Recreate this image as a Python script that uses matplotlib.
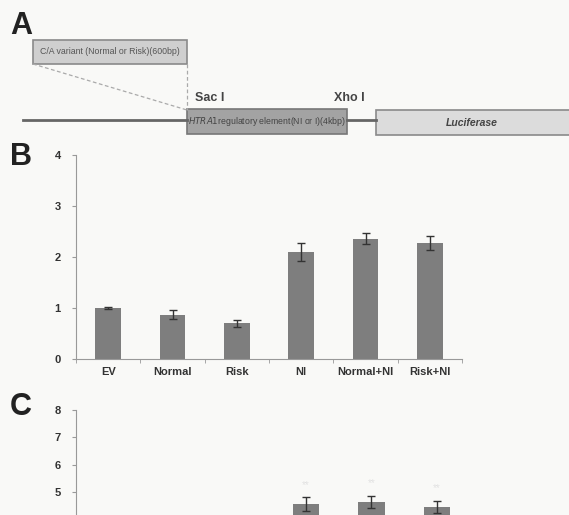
import matplotlib.pyplot as plt
from matplotlib.patches import Rectangle
from matplotlib.ticker import FixedLocator

# panel B: relative luciferase activity
groups = ['EV', 'Normal', 'Risk', 'NI', 'Normal+NI', 'Risk+NI']
b_vals = [1.0, 0.87, 0.70, 2.10, 2.36, 2.27]
b_err = [0.01, 0.09, 0.07, 0.17, 0.11, 0.14]

# panel C (only the top of it is in the picture)
c_vals = [1.0, 0.9, 0.8, 4.56, 4.65, 4.45]
c_err = [0.02, 0.1, 0.08, 0.25, 0.22, 0.22]

bg = '#f9f9f7'
bar_col = '#7e7e7e'
plt.rcParams['font.family'] = ['Liberation Sans', 'DejaVu Sans']

fig = plt.figure(figsize=(5.69, 5.15), dpi=100, facecolor=bg)

# ---- panel A, drawn in pixel coordinates ----
axA = fig.add_axes([0, 0, 1, 1], facecolor='none')
axA.set_xlim(0, 569)
axA.set_ylim(515, 0)
axA.axis('off')

axA.text(10, 34, 'A', fontsize=22, fontweight='bold', color='#222')
axA.plot([23, 187], [120, 120], color='#666', lw=2)
axA.plot([347, 376], [120, 120], color='#666', lw=2)
axA.add_patch(Rectangle((33, 40), 154, 24, facecolor='#cfcfcf', edgecolor='#8a8a8a', lw=1.2))
axA.text(110, 52, 'C/A variant (Normal or Risk)(600bp)', fontsize=6.3, ha='center', va='center', color='#555')
axA.plot([33, 187], [64, 110], color='#aaa', lw=0.9, ls=(0, (3, 2)))
axA.plot([187, 187], [64, 110], color='#aaa', lw=0.9, ls=(0, (3, 2)))
axA.add_patch(Rectangle((187, 109), 160, 25, facecolor='#a3a3a3', edgecolor='#777', lw=1.2))
axA.text(267, 122, r'$\it{HTRA1}$regulatory element(NI or I)(4kbp)', fontsize=6.3,
         ha='center', va='center', color='#444')
axA.add_patch(Rectangle((376, 110), 200, 25, facecolor='#dcdcdc', edgecolor='#8a8a8a', lw=1.2))
axA.text(472, 123, 'Luciferase', fontsize=7.5, style='italic', fontweight='bold',
         ha='center', va='center', color='#444')
axA.text(195, 101, 'Sac I', fontsize=9, fontweight='bold', color='#444')
axA.text(334, 101, 'Xho I', fontsize=9, fontweight='bold', color='#444')
axA.text(10, 165, 'B', fontsize=22, fontweight='bold', color='#222')
axA.text(10, 415, 'C', fontsize=22, fontweight='bold', color='#222')


def bar_panel(ax, vals, errs, ymax, labels, ymin_label=0):
    x = range(len(vals))
    ax.set_facecolor('none')
    ax.bar(x, vals, width=0.4, color=bar_col)
    ax.errorbar(x, vals, yerr=errs, fmt='none', ecolor='#333', elinewidth=1, capsize=3, capthick=1)
    ax.set_xlim(-0.5, len(vals) - 0.5)
    ax.set_ylim(0, ymax)
    ax.set_yticks(range(ymax + 1))
    ax.set_yticklabels([str(v) if v >= ymin_label else '' for v in range(ymax + 1)])
    for s in ['top', 'right']:
        ax.spines[s].set_visible(False)
    for s in ['left', 'bottom']:
        ax.spines[s].set_color('#999')
    ax.tick_params(axis='y', length=3, color='#999', labelsize=8, labelcolor='#333', pad=8)
    ax.set_xticks(list(x))
    if labels:
        ax.set_xticklabels(labels, fontsize=8, fontweight='bold', color='#333')
    else:
        ax.set_xticklabels([])
    ax.tick_params(axis='x', length=0, pad=6)
    ax.xaxis.set_minor_locator(FixedLocator([i - 0.5 for i in range(len(vals) + 1)]))
    ax.tick_params(axis='x', which='minor', length=3, color='#999')
    for lab in ax.get_yticklabels():
        lab.set_fontweight('bold')


axB = fig.add_axes([76 / 569, (515 - 359) / 515, 386 / 569, 204 / 515])
bar_panel(axB, b_vals, b_err, 4, groups)

axC = fig.add_axes([76 / 569, (515 - 629) / 515, 394 / 569, 219 / 515])
bar_panel(axC, c_vals, c_err, 8, None, ymin_label=5)
for i in range(3, 6):
    axC.text(i, c_vals[i] + c_err[i] + 0.35, '**', ha='center', fontsize=7, color='#e2e2e2')

fig.savefig('out.png', dpi=100, facecolor=bg)
